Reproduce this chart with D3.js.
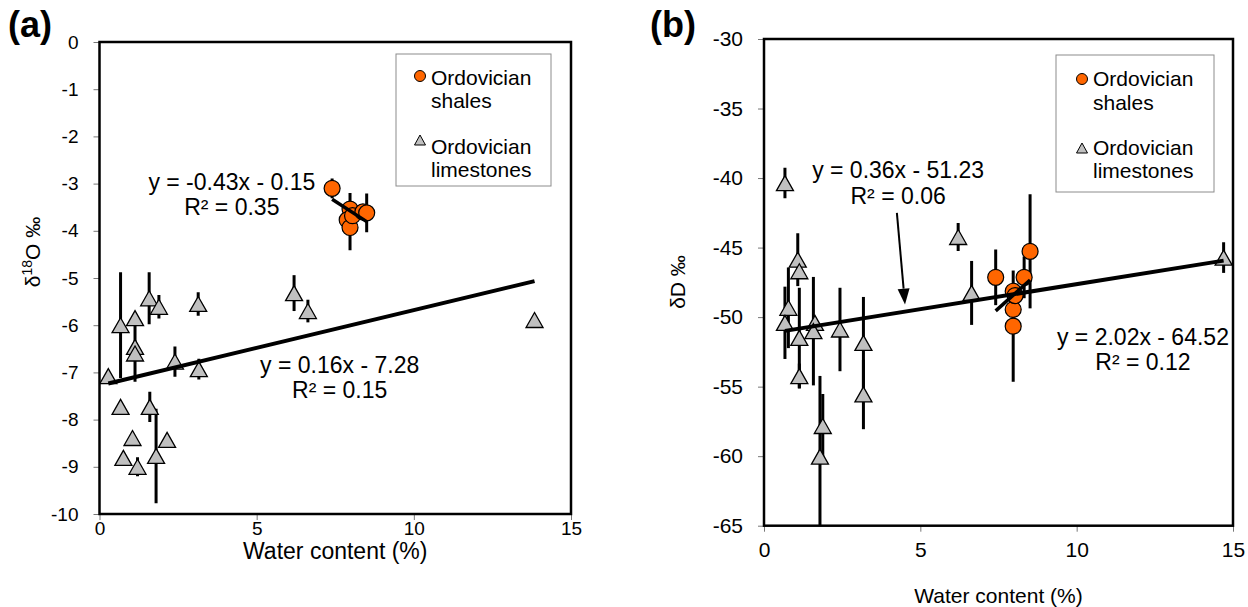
<!DOCTYPE html>
<html>
<head>
<meta charset="utf-8">
<script src="https://cdn.jsdelivr.net/npm/d3@7"></script>
<style>
  html, body { margin: 0; padding: 0; background: #fff; }
  svg { display: block; font-family: "Liberation Sans", Arial, sans-serif; }
</style>
</head>
<body>
<svg id="chart" width="1248" height="607"></svg>
<script>
// Water content (%) against oxygen and hydrogen isotope composition
// of Ordovician shales and limestones.

// ---- Panel (a): δ18O ----
const shaleWaterA = [7.40, 7.97, 7.88, 7.97, 8.05, 8.38, 8.50];
const shaleO18    = [-3.10, -3.54, -3.77, -3.93, -3.68, -3.60, -3.62];
const shaleO18Err = [0.21, 0.34, 0, 0.48, 0, 0, 0.41];

const limeWaterA  = [0.28, 0.67, 0.67, 0.76, 1.13, 1.13, 1.13, 1.05, 1.21, 1.58,
                     1.60, 1.80, 1.89, 2.15, 2.40, 3.14, 3.16, 6.19, 6.63, 13.84];
const limeO18     = [-7.08, -6.00, -7.73, -8.81, -5.85, -6.46, -6.60, -8.39, -9.00, -5.43,
                     -7.73, -8.77, -5.61, -8.43, -6.77, -5.55, -6.93, -5.32, -5.70, -5.89];
const limeO18Err  = [0, 1.12, 0, 0, 0, 0, 0.6, 0, 0.2, 0.55,
                     0.32, 1.0, 0.25, 0, 0.32, 0.25, 0.22, 0.38, 0.24, 0];

// ---- Panel (b): δD ----
const shaleWaterB = [7.41, 7.97, 7.97, 7.97, 8.03, 8.32, 8.51];
const shaleDD     = [-47.14, -50.65, -49.45, -48.14, -48.45, -47.14, -45.27];
const shaleDDErr  = [2.0, 4.0, 0, 0, 0, 1.5, 4.1];

const limeWaterB  = [0.67, 1.08, 1.13, 0.78, 0.67, 1.13, 1.63, 1.58, 2.43, 3.18,
                     1.13, 3.18, 6.21, 6.64, 1.88, 1.79, 14.70];
const limeDD      = [-40.36, -45.87, -46.70, -49.33, -50.41, -51.49, -50.41, -51.01, -50.89, -51.85,
                     -54.24, -55.56, -44.24, -48.26, -57.83, -60.03, -45.72];
const limeDDErr   = [1.1, 1.9, 0, 2.9, 2.6, 3.6, 0, 3.9, 3.0, 3.3,
                     0.9, 2.5, 1.0, 2.3, 2.3, 5.8, 1.1];

// Linear fits: [slope, intercept, R²]
const shaleFitA = [-0.43, -0.15, 0.35];
const limeFitA  = [0.16, -7.28, 0.15];
const shaleFitB = [2.02, -64.52, 0.12];
const limeFitB  = [0.36, -51.23, 0.06];

// Axis ticks
const xTicks  = [0, 5, 10, 15];
const yTicksA = [0, -1, -2, -3, -4, -5, -6, -7, -8, -9, -10];
const yTicksB = [-30, -35, -40, -45, -50, -55, -60, -65];

const legendLabels = [["Ordovician", "shales"], ["Ordovician", "limestones"]];

const ORANGE = "#FF6600";
const GREY = "#C0C0C0";
const svg = d3.select("#chart");

function eqText(fit) {
  const m = fit[0].toFixed(2);
  const b = fit[1];
  return `y = ${m}x ${b < 0 ? "-" : "+"} ${Math.abs(b).toFixed(2)}`;
}

function trianglePath(w, h) {
  return `M0,${-h / 2}L${w / 2},${h / 2}L${-w / 2},${h / 2}Z`;
}

function drawPanel(cfg) {
  const g = svg.append("g");
  const x = d3.scaleLinear().domain([0, 15]).range([cfg.left, cfg.right]);
  const y = d3.scaleLinear().domain(cfg.yDomain).range([cfg.bottom, cfg.top]);

  const clipId = "clip-" + cfg.id;
  svg.append("clipPath").attr("id", clipId)
    .append("rect")
    .attr("x", cfg.left).attr("y", cfg.top)
    .attr("width", cfg.right - cfg.left).attr("height", cfg.bottom - cfg.top);

  // axes
  const yAxis = d3.axisLeft(y).tickValues(cfg.yTicks).tickSize(6).tickSizeOuter(0)
    .tickPadding(cfg.yPad).tickFormat(d => d === 0 ? "0" : String(d));
  const gy = g.append("g").attr("transform", `translate(${cfg.left},0)`).call(yAxis);
  const xAxis = d3.axisBottom(x).tickValues(xTicks).tickSize(6).tickSizeOuter(0)
    .tickPadding(cfg.xPad);
  const gx = g.append("g").attr("transform", `translate(0,${cfg.bottom})`).call(xAxis);
  [gx, gy].forEach(a => {
    a.select(".domain").remove();
    a.selectAll(".tick line").attr("stroke", "#777").attr("stroke-width", 1);
    a.selectAll(".tick text").attr("font-size", cfg.tickFont).attr("fill", "#000")
      .attr("font-family", "Liberation Sans, Arial, sans-serif");
  });

  const plot = g.append("g").attr("clip-path", `url(#${clipId})`);

  // error bars
  const bars = (xs, ys, es) => xs.map((v, i) => ({ x: v, y: ys[i], e: es[i] })).filter(d => d.e > 0);
  plot.selectAll(null)
    .data(bars(cfg.shaleX, cfg.shaleY, cfg.shaleE).concat(bars(cfg.limeX, cfg.limeY, cfg.limeE)))
    .join("line")
    .attr("x1", d => x(d.x)).attr("x2", d => x(d.x))
    .attr("y1", d => y(d.y + d.e)).attr("y2", d => y(d.y - d.e))
    .attr("stroke", "#000").attr("stroke-width", 3);

  // shale markers
  plot.selectAll(null).data(cfg.shaleX.map((v, i) => [v, cfg.shaleY[i]]))
    .join("circle")
    .attr("cx", d => x(d[0])).attr("cy", d => y(d[1])).attr("r", 8)
    .attr("fill", ORANGE).attr("stroke", "#000").attr("stroke-width", 1.2);

  // limestone markers
  plot.selectAll(null).data(cfg.limeX.map((v, i) => [v, cfg.limeY[i]]))
    .join("path")
    .attr("d", trianglePath(17, 15))
    .attr("transform", d => `translate(${x(d[0])},${y(d[1])})`)
    .attr("fill", GREY).attr("stroke", "#000").attr("stroke-width", 1.3);

  // trend lines over each series' x range
  const trend = (xs, fit, w) => {
    const [x0, x1] = d3.extent(xs);
    plot.append("line")
      .attr("x1", x(x0)).attr("y1", y(fit[0] * x0 + fit[1]))
      .attr("x2", x(x1)).attr("y2", y(fit[0] * x1 + fit[1]))
      .attr("stroke", "#000").attr("stroke-width", w).attr("stroke-linecap", "butt");
  };
  trend(cfg.limeX, cfg.limeFit, 4);
  trend(cfg.shaleX, cfg.shaleFit, 3.5);

  // plot frame
  g.append("rect")
    .attr("x", cfg.left).attr("y", cfg.top)
    .attr("width", cfg.right - cfg.left).attr("height", cfg.bottom - cfg.top)
    .attr("fill", "none").attr("stroke", "#000").attr("stroke-width", 2.5);

  // fit equations
  const eq = (pos, fit) => {
    const t = g.append("text").attr("text-anchor", "middle").attr("font-size", 23).attr("fill", "#000");
    t.append("tspan").attr("x", x(pos[0])).attr("y", y(pos[1])).text(eqText(fit));
    t.append("tspan").attr("x", x(pos[0])).attr("y", y(pos[2])).text(`R² = ${fit[2].toFixed(2)}`);
  };
  eq(cfg.shaleEqPos, cfg.shaleFit);
  eq(cfg.limeEqPos, cfg.limeFit);

  // legend
  const L = cfg.legend;
  g.append("rect").attr("x", L.x).attr("y", L.y).attr("width", L.w).attr("height", L.h)
    .attr("fill", "#fff").attr("stroke", "#8c8c8c").attr("stroke-width", 1);
  g.append("circle").attr("cx", L.mx).attr("cy", L.m1).attr("r", 5.5)
    .attr("fill", ORANGE).attr("stroke", "#000").attr("stroke-width", 1);
  g.append("path").attr("d", trianglePath(11, 10))
    .attr("transform", `translate(${L.mx},${L.m2})`)
    .attr("fill", GREY).attr("stroke", "#000").attr("stroke-width", 1);
  legendLabels.forEach((lines, i) => {
    lines.forEach((s, j) => {
      g.append("text").attr("x", L.tx).attr("y", L.base[i * 2 + j])
        .attr("font-size", 21).attr("fill", "#000").text(s);
    });
  });

  // axis titles
  g.append("text").attr("x", (cfg.left + cfg.right) / 2).attr("y", cfg.xTitleY)
    .attr("text-anchor", "middle").attr("font-size", cfg.xTitleFont).text("Water content (%)");
  const yt = g.append("text")
    .attr("transform", `translate(${cfg.yTitle[0]},${cfg.yTitle[1]}) rotate(-90)`)
    .attr("text-anchor", "middle").attr("font-size", 21);
  cfg.yTitleParts.forEach(p => {
    const s = yt.append("tspan").text(p.t);
    if (p.sup) s.attr("font-size", 14).attr("dy", -8);
    if (p.down) s.attr("dy", 8);
  });

  // panel tag
  g.append("text").attr("x", cfg.tag[0]).attr("y", cfg.tag[1])
    .attr("font-size", 36).attr("font-weight", "bold").text(cfg.tagText);

  return { x, y, g };
}

drawPanel({
  id: "a", left: 99.5, right: 571, top: 42, bottom: 514,
  yDomain: [-10, 0], yTicks: yTicksA, yPad: 15, xPad: 2, tickFont: 19,
  shaleX: shaleWaterA, shaleY: shaleO18, shaleE: shaleO18Err,
  limeX: limeWaterA, limeY: limeO18, limeE: limeO18Err,
  shaleFit: shaleFitA, limeFit: limeFitA,
  shaleEqPos: [4.21, -3.14, -3.67], limeEqPos: [7.64, -7.01, -7.54],
  legend: { x: 396, y: 54, w: 155, h: 132, mx: 420, m1: 76, m2: 140, tx: 431, base: [85, 108, 154, 177] },
  xTitleY: 559, xTitleFont: 23, yTitle: [40, 252],
  yTitleParts: [{ t: "δ" }, { t: "18", sup: true }, { t: "O ‰", down: true }],
  tag: [8, 37], tagText: "(a)"
});

const pb = drawPanel({
  id: "b", left: 764, right: 1233, top: 39, bottom: 525.7,
  yDomain: [-65, -30], yTicks: yTicksB, yPad: 15, xPad: 10, tickFont: 21,
  shaleX: shaleWaterB, shaleY: shaleDD, shaleE: shaleDDErr,
  limeX: limeWaterB, limeY: limeDD, limeE: limeDDErr,
  shaleFit: shaleFitB, limeFit: limeFitB,
  shaleEqPos: [12.12, -51.97, -53.83], limeEqPos: [4.29, -39.98, -41.85],
  legend: { x: 1056, y: 55, w: 158, h: 137, mx: 1082, m1: 79, m2: 148, tx: 1093, base: [86, 110, 155, 178] },
  xTitleY: 603, xTitleFont: 21, yTitle: [685, 282],
  yTitleParts: [{ t: "δD ‰" }],
  tag: [650, 37], tagText: "(b)"
});

// arrow from the limestone fit label down to its trend line
const arrowFrom = [4.25, -42.5];
const arrowTo = [4.51, -49.1];
(function () {
  const x0 = pb.x(arrowFrom[0]), y0 = pb.y(arrowFrom[1]);
  const x1 = pb.x(arrowTo[0]), y1 = pb.y(arrowTo[1]);
  const ang = Math.atan2(y1 - y0, x1 - x0);
  const len = 16, half = 6;
  const bx = x1 - len * Math.cos(ang), by = y1 - len * Math.sin(ang);
  pb.g.append("line").attr("x1", x0).attr("y1", y0).attr("x2", bx).attr("y2", by)
    .attr("stroke", "#000").attr("stroke-width", 2);
  const px = -Math.sin(ang) * half, py = Math.cos(ang) * half;
  pb.g.append("path")
    .attr("d", `M${x1},${y1}L${bx + px},${by + py}L${bx - px},${by - py}Z`)
    .attr("fill", "#000");
})();
</script>
</body>
</html>
